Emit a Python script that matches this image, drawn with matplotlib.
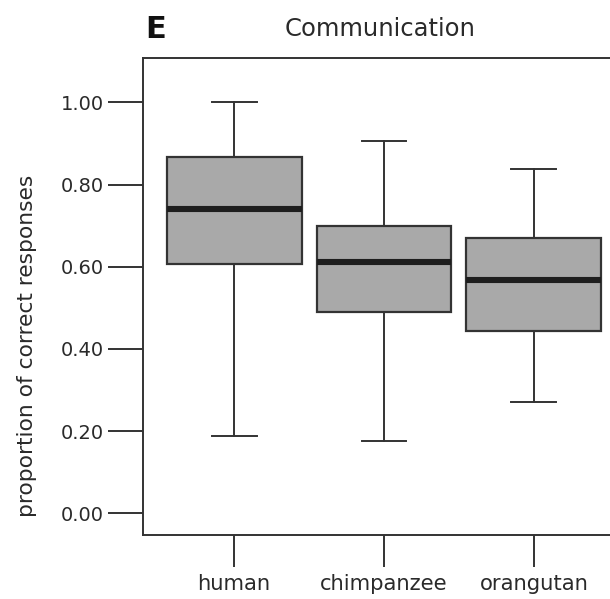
import matplotlib
matplotlib.use('Agg')
import matplotlib.pyplot as plt

plt.rcParams['font.family'] = ['DejaVu Sans']

species = ['human', 'chimpanzee', 'orangutan']
whis_lo = [0.188, 0.176, 0.271]
q1 = [0.607, 0.490, 0.444]
med = [0.740, 0.611, 0.567]
q3 = [0.867, 0.699, 0.669]
whis_hi = [1.000, 0.906, 0.837]
yticks = [0.0, 0.2, 0.4, 0.6, 0.8, 1.0]

stats = []
for i in range(len(species)):
    stats.append({'label': species[i], 'whislo': whis_lo[i], 'q1': q1[i],
                  'med': med[i], 'q3': q3[i], 'whishi': whis_hi[i], 'fliers': []})

fig = plt.figure(figsize=(6.10, 5.99), dpi=100)
ax = fig.add_axes([0.2344, 0.1068, 0.7885, 0.7963])

line_c = '#333333'
txt_c = '#2a2a2a'
ax.bxp(stats, positions=[1, 2, 3], widths=0.9, capwidths=0.3, patch_artist=True,
       boxprops=dict(facecolor='#a9a9a9', edgecolor=line_c, linewidth=1.6),
       medianprops=dict(color='#1e1e1e', linewidth=4.4, solid_capstyle='butt'),
       whiskerprops=dict(color=line_c, linewidth=1.4),
       capprops=dict(color=line_c, linewidth=1.4))

ax.set_xlim(0.393, 3.6)
ax.set_ylim(-0.053, 1.108)
ax.set_yticks(yticks)
ax.set_yticklabels(['%.2f' % t for t in yticks], fontsize=14, color=txt_c)
ax.set_xticks([1, 2, 3])
ax.set_xticklabels(species, fontsize=15.2, color=txt_c)

ax.tick_params(axis='y', length=25, width=1.4, color=line_c, pad=3)
ax.tick_params(axis='x', length=23, width=1.4, color=line_c, pad=5)
for s in ax.spines.values():
    s.set_color(line_c)
    s.set_linewidth(1.4)

# y label sits a bit below the axes centre in the original
fig.text(27 / 610, 1 - 346 / 599, 'proportion of correct responses', rotation=90,
         fontsize=15.7, ha='center', va='center', color=txt_c)

fig.text(380 / 610, 1 - 29 / 599, 'Communication', fontsize=17.5, ha='center', va='center', color=txt_c)
fig.text(145 / 610, 1 - 29 / 599, 'E', fontsize=22, fontweight='bold', ha='left', va='center', color='#111111')

fig.savefig('out.png', dpi=100)
